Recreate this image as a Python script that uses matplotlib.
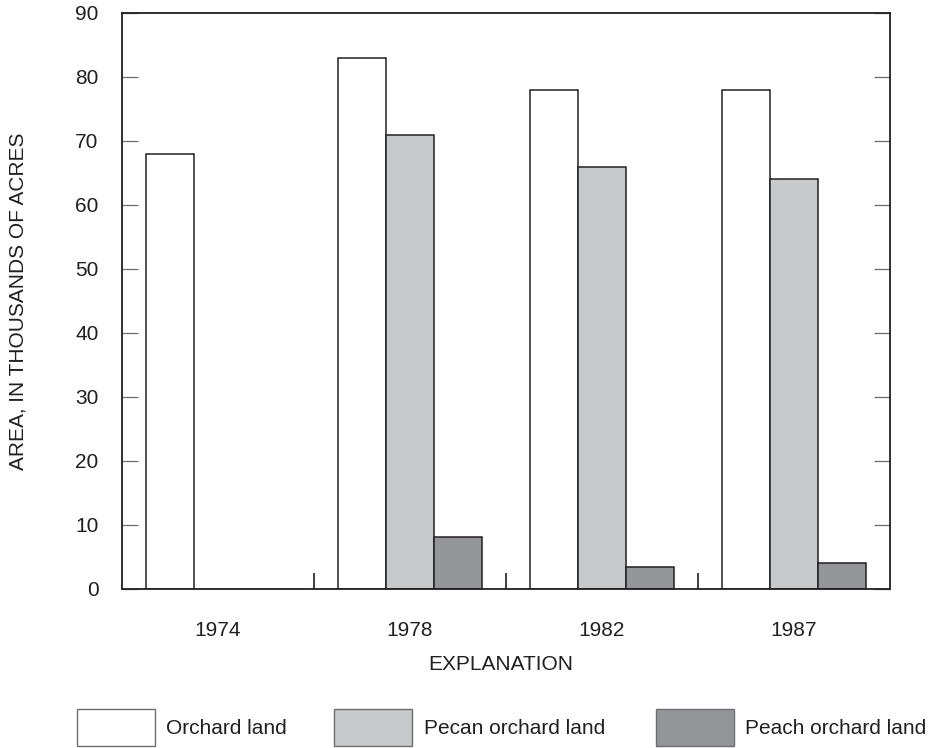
import matplotlib
matplotlib.use("Agg")
import matplotlib.pyplot as plt
from matplotlib.patches import Rectangle
import numpy as np

plt.rcParams['font.family'] = ['Liberation Sans', 'DejaVu Sans']

years = ["1974", "1978", "1982", "1987"]
series_names = ["Orchard land", "Pecan orchard land", "Peach orchard land"]
orchard = [68, 83, 78, 78]
pecan = [np.nan, 71, 66, 64]
peach = [np.nan, 8.2, 3.5, 4.1]
colors = ["#ffffff", "#c8c9cb", "#939598"]
edge = "#231f20"

W, H = 930, 748
fig = plt.figure(figsize=(W / 100, H / 100), dpi=100)
ax = fig.add_axes([122 / W, (H - 589) / H, (890 - 122) / W, (589 - 13) / H])

x = np.arange(len(years))
width = 0.25
for i, (vals, c) in enumerate(zip([orchard, pecan, peach], colors)):
    ax.bar(x + (i - 1) * width, vals, width, color=c, edgecolor=edge, linewidth=1.1, zorder=2)

ax.set_xlim(-0.5, len(years) - 0.5)
ax.set_ylim(0, 90)
ax.set_yticks(np.arange(0, 91, 10))
ax.set_xticks(x)
ax.set_xticklabels(years)
ax.set_xticks(x[:-1] + 0.5, minor=True)

fs = 15
ax.tick_params(axis='y', which='major', direction='in', length=11.5, width=0.9,
               color='#6d6e71', labelsize=fs, pad=17, right=True, left=True,
               labelcolor='#231f20')
ax.tick_params(axis='x', which='major', length=0, labelsize=fs, pad=23,
               labelcolor='#231f20')
ax.tick_params(axis='x', which='minor', direction='in', length=11.5, width=1.2,
               color=edge, bottom=True)
for s in ax.spines.values():
    s.set_color(edge)
    s.set_linewidth(1.3)

fig.text(18 / W, 1 - 301 / H, "AREA, IN THOUSANDS OF ACRES", rotation=90,
         ha='center', va='center', fontsize=fs, color='#231f20')
fig.text(501 / W, 1 - 665 / H, "EXPLANATION", ha='center', va='center',
         fontsize=fs, color='#231f20')

box_x = [77, 334, 656]
text_x = [166, 424, 745]
for bx, tx, name, c in zip(box_x, text_x, series_names, colors):
    fig.patches.append(Rectangle((bx / W, (H - 746) / H), 78 / W, 37 / H,
                                 transform=fig.transFigure, facecolor=c,
                                 edgecolor='#6d6e71', linewidth=1.0))
    fig.text(tx / W, 1 - 728 / H, name, ha='left', va='center',
             fontsize=fs, color='#231f20')

fig.savefig("out.png", dpi=100)
